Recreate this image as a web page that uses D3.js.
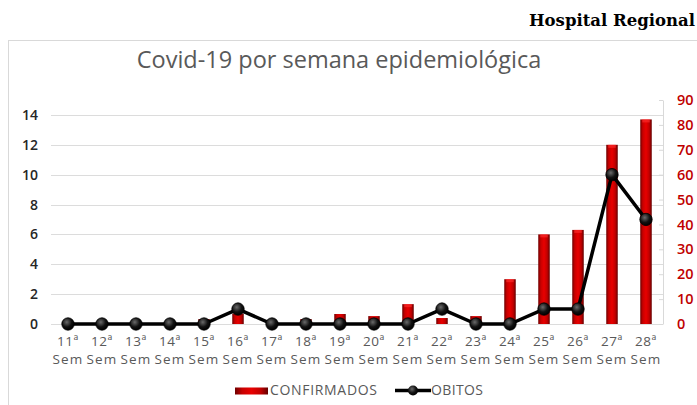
<!DOCTYPE html>
<html><head><meta charset="utf-8">
<script src="https://cdn.jsdelivr.net/npm/d3@7"></script>
<style>html,body{margin:0;padding:0;background:#fff;overflow:hidden}svg{display:block}</style>
</head><body>
<script>
const weeks = ["11ª","12ª","13ª","14ª","15ª","16ª","17ª","18ª","19ª","20ª","21ª","22ª","23ª","24ª","25ª","26ª","27ª","28ª"];
const confirmados = [0,0,0,0,0.33,0.7,0,0.33,0.67,0.53,1.33,0.4,0.53,3,6,6.3,12,13.7];
const obitos = [0,0,0,0,0,6,0,0,0,0,0,6,0,0,6,6,60,42];
const leftTicks = [0,2,4,6,8,10,12,14];
const rightTicks = [0,10,20,30,40,50,60,70,80,90];

const W = 697, H = 405;
const svg = d3.select("body").append("svg").attr("width", W).attr("height", H);
const defs = svg.append("defs");
const bg = defs.append("linearGradient").attr("id","barGrad").attr("x1","0").attr("x2","1").attr("y1","0").attr("y2","0");
bg.append("stop").attr("offset","0%").attr("stop-color","#6e0000");
bg.append("stop").attr("offset","22%").attr("stop-color","#c80000");
bg.append("stop").attr("offset","50%").attr("stop-color","#e80000");
bg.append("stop").attr("offset","78%").attr("stop-color","#c00000");
bg.append("stop").attr("offset","100%").attr("stop-color","#640000");
const mg = defs.append("radialGradient").attr("id","markGrad").attr("cx","40%").attr("cy","35%").attr("r","65%");
mg.append("stop").attr("offset","0%").attr("stop-color","#6a6a6a");
mg.append("stop").attr("offset","60%").attr("stop-color","#111");
mg.append("stop").attr("offset","100%").attr("stop-color","#000");

// header text
svg.append("text").attr("x", 695).attr("y", 26).attr("text-anchor","end")
  .attr("font-family","DejaVu Serif").attr("font-weight","bold").attr("font-size",16.5)
  .attr("fill","#000").text("Hospital Regional");

// chart box
svg.append("rect").attr("x",8.5).attr("y",40.5).attr("width",W+20).attr("height",H)
  .attr("fill","#fff").attr("stroke","#d9d9d9");

svg.append("text").attr("x",339).attr("y",68).attr("text-anchor","middle")
  .attr("font-family","Open Sans").attr("font-size",23.5).attr("fill","#595959")
  .text("Covid-19 por semana epidemiológica");

const x = d3.scaleBand().domain(weeks).range([51,663]).padding(0);
const yL = d3.scaleLinear().domain([0,15]).range([324,100]);
const yR = d3.scaleLinear().domain([0,90]).range([324,100]);

// gridlines
svg.append("g").selectAll("line").data(leftTicks).join("line")
  .attr("x1",51).attr("x2",663).attr("y1",d=>Math.round(yL(d))+0.5).attr("y2",d=>Math.round(yL(d))+0.5)
  .attr("stroke","#dcdcdc").attr("stroke-width",1.2);

// left axis
const gL = svg.append("g").attr("transform","translate(46,0)")
  .call(d3.axisLeft(yL).tickValues(leftTicks).tickSize(0).tickPadding(8));
gL.select(".domain").remove();
gL.selectAll("text").attr("font-family","Open Sans").attr("font-weight",600).attr("font-size",14).attr("fill","#262626");

// right axis
const gR = svg.append("g").attr("transform","translate(663,0)")
  .call(d3.axisRight(yR).tickValues(rightTicks).tickSizeInner(-4).tickSizeOuter(0).tickPadding(14));
gR.select(".domain").attr("stroke","#d9d9d9");
gR.selectAll(".tick line").attr("stroke","#d9d9d9");
gR.selectAll("text").attr("font-family","Open Sans").attr("font-weight",600).attr("font-size",14.5).attr("fill","#c00000");

// x labels (two separate rows)
const cx = d => x(d)+x.bandwidth()/2;
svg.append("g").selectAll("text").data(weeks).join("text")
  .attr("x",cx).attr("y",345.5).attr("text-anchor","middle")
  .attr("font-family","Open Sans").attr("font-size",13.5).attr("letter-spacing",0.6).attr("fill","#595959")
  .text(d=>d);
svg.append("g").selectAll("text").data(weeks).join("text")
  .attr("x",cx).attr("y",363.5).attr("text-anchor","middle")
  .attr("font-family","Open Sans").attr("font-size",13.5).attr("letter-spacing",1.2).attr("fill","#595959")
  .text("Sem");

// bars
const bw = 11.5;
svg.append("g").selectAll("rect").data(confirmados).join("rect")
  .attr("x",(d,i)=>cx(weeks[i])-bw/2).attr("width",bw)
  .attr("y",d=>yL(d)).attr("height",d=>yL(0)-yL(d))
  .attr("fill","url(#barGrad)");
svg.append("g").selectAll("rect").data(confirmados.map((d,i)=>[d,i]).filter(p=>p[0]>1)).join("rect")
  .attr("x",p=>cx(weeks[p[1]])-bw/2+2).attr("width",bw-4)
  .attr("y",p=>yL(p[0])).attr("height",3).attr("fill","#ff3030").attr("opacity",0.6);

// line
const line = d3.line().x((d,i)=>cx(weeks[i])).y(d=>yR(d));
svg.append("path").datum(obitos).attr("d",line).attr("fill","none")
  .attr("stroke","#000").attr("stroke-width",3.5).attr("stroke-linejoin","round");
svg.append("g").selectAll("circle").data(obitos).join("circle")
  .attr("cx",(d,i)=>cx(weeks[i])).attr("cy",d=>yR(d)).attr("r",6.2)
  .attr("fill","url(#markGrad)").attr("stroke","#000").attr("stroke-width",0.8);

// legend
const lg = svg.append("g");
lg.append("rect").attr("x",235).attr("y",387.5).attr("width",33).attr("height",7).attr("fill","url(#barGrad)");
lg.append("text").attr("x",270).attr("y",394.5).attr("font-family","Open Sans").attr("font-size",14)
  .attr("fill","#595959").attr("textLength",107).text("CONFIRMADOS");
lg.append("line").attr("x1",395).attr("x2",431).attr("y1",390.5).attr("y2",390.5).attr("stroke","#000").attr("stroke-width",3.5);
lg.append("circle").attr("cx",413).attr("cy",390.5).attr("r",5).attr("fill","url(#markGrad)");
lg.append("text").attr("x",431).attr("y",394.5).attr("font-family","Open Sans").attr("font-size",14)
  .attr("fill","#595959").attr("textLength",52).text("OBITOS");
</script>
</body></html>
